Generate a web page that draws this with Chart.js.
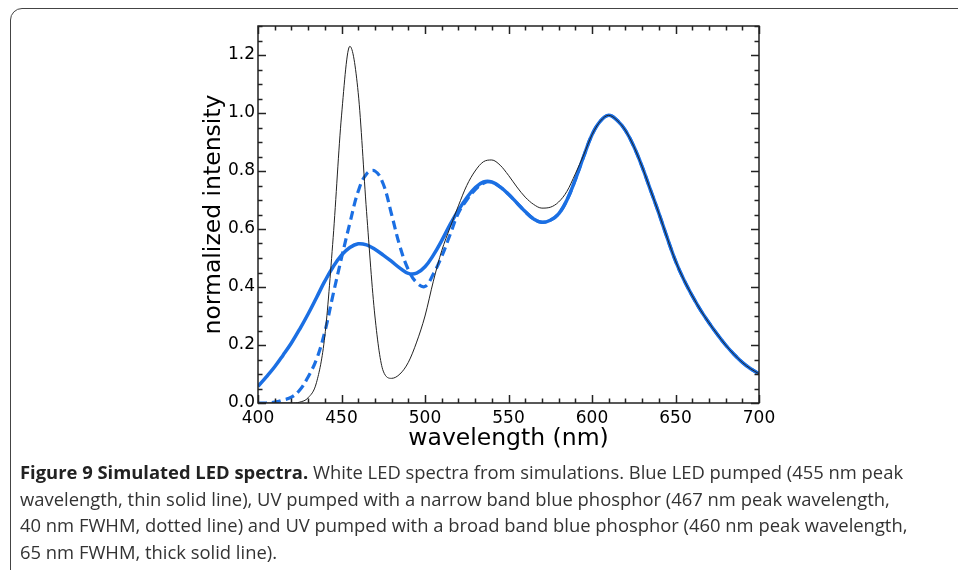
<!DOCTYPE html>
<html lang="en">
<head>
<meta charset="utf-8">
<title>Simulated LED spectra</title>
<style>
	html, body { margin: 0; padding: 0; background: #fff; }
	body { width: 958px; height: 570px; overflow: hidden; position: relative; }
	.box {
		position: absolute; left: 10px; top: 8px; width: 1000px; height: 600px;
		border: 1.5px solid #444; border-radius: 12px 0 0 0;
	}
	#wrap { position: absolute; left: 0; top: 0; width: 958px; height: 470px; }
	.caption {
		position: absolute; left: 20px; top: 459px;
		font-family: "Open Sans", sans-serif; font-size: 18.4px; color: #333;
		line-height: 26.6px; white-space: nowrap;
	}
	.caption b { font-weight: 700; color: #222; }
</style>
</head>
<body>
	<div class="box"></div>
	<div id="wrap"><canvas id="c1" width="958" height="470"></canvas></div>
	<div class="caption">
		<div><b>Figure 9 Simulated LED spectra.</b> White LED spectra from simulations. Blue LED pumped (455 nm peak</div>
		<div>wavelength, thin solid line), UV pumped with a narrow band blue phosphor (467 nm peak wavelength,</div>
		<div>40 nm FWHM, dotted line) and UV pumped with a broad band blue phosphor (460 nm peak wavelength,</div>
		<div>65 nm FWHM, thick solid line).</div>
	</div>

	<script src="https://cdn.jsdelivr.net/npm/chart.js@4/dist/chart.umd.min.js"></script>
	<script>
	// wavelength grid (nm)
	var wavelength = [
		400, 405, 410, 415, 420, 425, 430, 435, 440, 445,
		450, 455, 460, 465, 470, 475, 480, 485, 490, 495,
		500, 505, 510, 515, 520, 525, 530, 535, 540, 545,
		550, 555, 560, 565, 570, 575, 580, 585, 590, 595,
		600, 605, 610, 615, 620, 625, 630, 635, 640, 645,
		650, 655, 660, 665, 670, 675, 680, 685, 690, 695,
		700
	];

	// blue LED pumped (thin solid line)
	var blueLed = [
		0, 0, 0, 0, 0, 0.003, 0.018, 0.07, 0.23, 0.57,
		0.99, 1.23, 1.07, 0.66, 0.3, 0.11, 0.085, 0.1, 0.14, 0.21,
		0.3, 0.42, 0.525, 0.605, 0.68, 0.75, 0.8, 0.832, 0.838, 0.82,
		0.785, 0.745, 0.71, 0.685, 0.672, 0.675, 0.693, 0.73, 0.79, 0.855,
		0.925, 0.972, 0.992, 0.975, 0.94, 0.885, 0.815, 0.735, 0.655, 0.57,
		0.49, 0.425, 0.37, 0.32, 0.277, 0.237, 0.2, 0.168, 0.14, 0.118,
		0.101
	];

	// UV pumped, narrow band blue phosphor (dotted line)
	var uvNarrow = [
		0, 0, 0.003, 0.01, 0.02, 0.045, 0.09, 0.15, 0.245, 0.375,
		0.5, 0.62, 0.73, 0.79, 0.8, 0.755, 0.65, 0.54, 0.46, 0.415,
		0.402, 0.445, 0.505, 0.58, 0.655, 0.7, 0.735, 0.758, 0.762, 0.745,
		0.72, 0.69, 0.66, 0.635, 0.623, 0.63, 0.652, 0.7, 0.77, 0.85,
		0.925, 0.972, 0.992, 0.975, 0.94, 0.885, 0.815, 0.735, 0.655, 0.57,
		0.49, 0.425, 0.37, 0.32, 0.277, 0.237, 0.2, 0.168, 0.14, 0.118,
		0.101
	];

	// UV pumped, broad band blue phosphor (thick solid line)
	var uvBroad = [
		0.057, 0.09, 0.125, 0.165, 0.207, 0.255, 0.307, 0.363, 0.42, 0.47,
		0.51, 0.536, 0.549, 0.545, 0.53, 0.51, 0.488, 0.465, 0.447, 0.448,
		0.47, 0.51, 0.56, 0.615, 0.665, 0.708, 0.742, 0.762, 0.762, 0.745,
		0.72, 0.69, 0.66, 0.635, 0.623, 0.63, 0.652, 0.7, 0.77, 0.85,
		0.925, 0.972, 0.992, 0.975, 0.94, 0.885, 0.815, 0.735, 0.655, 0.57,
		0.49, 0.425, 0.37, 0.32, 0.277, 0.237, 0.2, 0.168, 0.14, 0.118,
		0.101
	];

	var xMajor = [400, 450, 500, 550, 600, 650, 700];
	var yMajor = [0.0, 0.2, 0.4, 0.6, 0.8, 1.0, 1.2];

	function pairs(ys) {
		return wavelength.map(function(w, i) { return {x: w, y: ys[i]}; });
	}
	function isMajorX(v) { return xMajor.indexOf(Math.round(v)) >= 0; }
	function isMajorY(v) { return yMajor.some(function(m) { return Math.abs(m - v) < 1e-6; }); }
	</script>

	<script>
	// inward ticks on all four sides, plus the frame
	var frameTicks = {
		id: 'frameTicks',
		afterDatasetsDraw: function(chart) {
			var ctx = chart.ctx, a = chart.chartArea;
			var x = chart.scales.x, y = chart.scales.y;
			ctx.save();
			ctx.strokeStyle = '#222';
			ctx.lineWidth = 1.5;
			ctx.beginPath();
			x.ticks.forEach(function(t) {
				var px = Math.round(x.getPixelForValue(t.value)) + 0.5;
				var len = isMajorX(t.value) ? 8 : 4.5;
				ctx.moveTo(px, a.bottom); ctx.lineTo(px, a.bottom - len);
				ctx.moveTo(px, a.top); ctx.lineTo(px, a.top + len);
			});
			y.ticks.forEach(function(t) {
				var py = Math.round(y.getPixelForValue(t.value)) + 0.5;
				var len = isMajorY(t.value) ? 8 : 4.5;
				ctx.moveTo(a.left, py); ctx.lineTo(a.left + len, py);
				ctx.moveTo(a.right, py); ctx.lineTo(a.right - len, py);
			});
			ctx.stroke();
			ctx.strokeRect(a.left, a.top, a.right - a.left, a.bottom - a.top);
			ctx.restore();
		}
	};

	var blue = '#1b6fe3';
	var config = {
		type: 'line',
		data: {
			datasets: [
				{label: 'blue LED', data: pairs(blueLed), borderColor: '#222', borderWidth: 1,
					cubicInterpolationMode: 'monotone'},
				{label: 'UV narrow', data: pairs(uvNarrow), borderColor: blue, borderWidth: 3.2,
					borderDash: [9, 5], tension: 0.4},
				{label: 'UV broad', data: pairs(uvBroad), borderColor: blue, borderWidth: 3.5, tension: 0.4}
			]
		},
		options: {
			responsive: false,
			animation: false,
			events: [],
			layout: {padding: {left: 198, right: 199, top: 26, bottom: 7}},
			elements: {
				point: {radius: 0},
				line: {fill: false, borderCapStyle: 'butt'}
			},
			plugins: {legend: {display: false}, tooltip: {enabled: false}},
			scales: {
				x: {
					type: 'linear', min: 400, max: 700,
					grid: {display: false, drawTicks: false}, border: {display: false},
					afterFit: function(s) { s.height = 60; },
					ticks: {
						stepSize: 10, autoSkip: false, maxRotation: 0, padding: 5,
						color: '#000', font: {family: 'DejaVu Sans', size: 17},
						callback: function(v) { return isMajorX(v) ? String(Math.round(v)) : ''; }
					},
					title: {
						display: true, text: 'wavelength (nm)', color: '#000',
						font: {family: 'DejaVu Sans', size: 23.5}, padding: {top: 0, bottom: 10}
					}
				},
				y: {
					min: 0, max: 1.3,
					grid: {display: false, drawTicks: false}, border: {display: false},
					afterFit: function(s) { s.width = 60; },
					ticks: {
						stepSize: 0.05, autoSkip: false, padding: 3,
						color: '#000', font: {family: 'DejaVu Sans', size: 17},
						callback: function(v) { return isMajorY(v) ? v.toFixed(1) : ''; }
					},
					title: {
						display: true, text: 'normalized intensity', color: '#000',
						font: {family: 'DejaVu Sans', size: 23.5}, padding: {top: 2, bottom: 0}
					}
				}
			}
		},
		plugins: [frameTicks]
	};

	var chart = new Chart(document.getElementById('c1'), config);
	</script>
</body>
</html>
